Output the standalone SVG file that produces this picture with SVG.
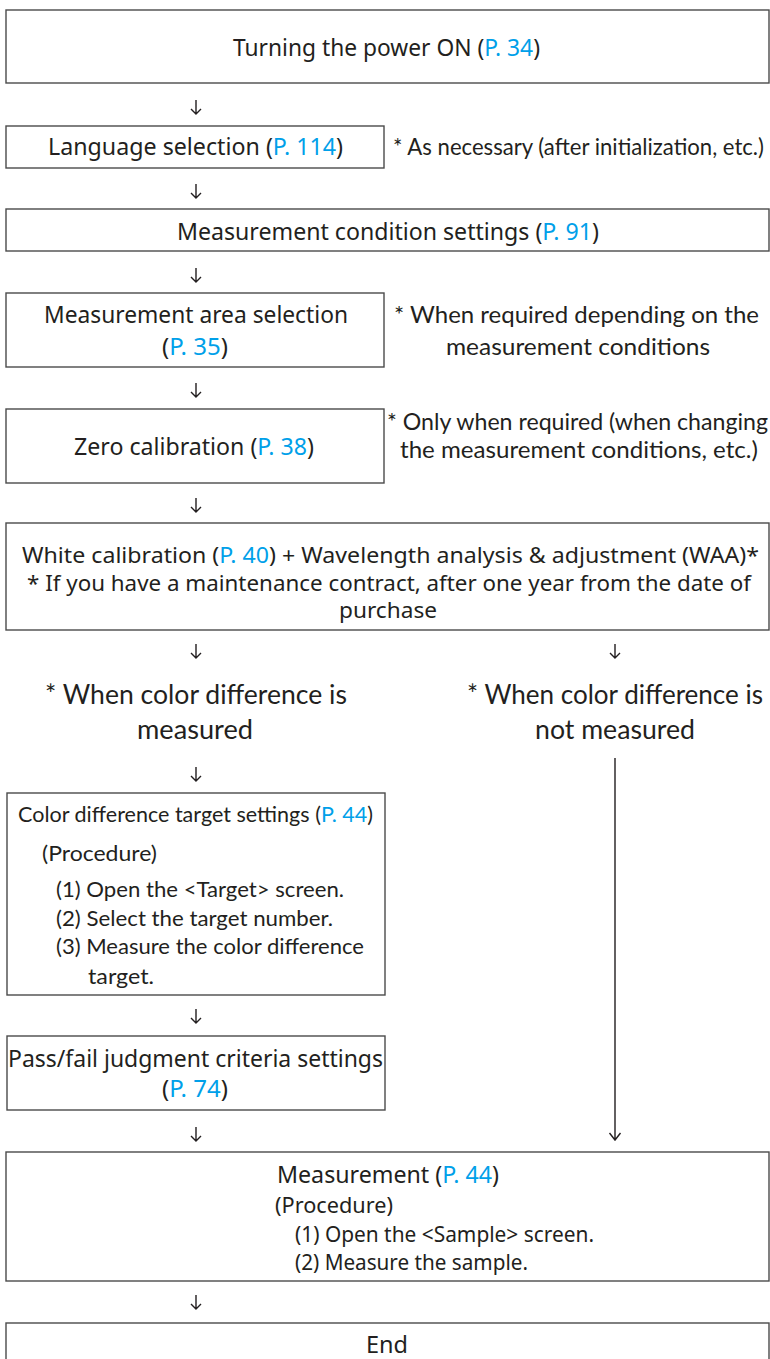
<svg xmlns="http://www.w3.org/2000/svg" width="770" height="1359" viewBox="0 0 770 1359">
<style>
.box{fill:#fff;stroke:#4a4a4a;stroke-width:1.4}
text{lengthAdjust:spacingAndGlyphs}
.t{font-family:"Noto Sans","Liberation Sans",sans-serif;font-size:23px;fill:#231f20}
.w{font-family:"Noto Sans","Liberation Sans",sans-serif;font-size:22.5px;fill:#231f20}
.s{font-family:"Noto Sans","Liberation Sans",sans-serif;font-size:21px;fill:#231f20}
.n{font-family:Lato,"Noto Sans",sans-serif;font-size:23.5px;fill:#231f20}
.l{font-family:Lato,"Noto Sans",sans-serif;font-size:26px;fill:#231f20}
.lb{font-family:Lato,"Noto Sans",sans-serif;font-size:21.5px;fill:#231f20}
.lk{fill:#00a0e9}
.arr{stroke:#231f20;stroke-width:1.4;fill:none}
</style>
<rect width="770" height="1359" fill="#fff"/>
<g id="n-power">
<rect class="box" x="6" y="10" width="763" height="73"/>
<text class="t" x="233" y="56" textLength="307" lengthAdjust="spacingAndGlyphs">Turning the power ON (<tspan class="lk">P. 34</tspan>)</text>
</g>
<g id="n-language">
<rect class="box" x="6" y="126" width="378" height="42"/>
<text class="t" x="48" y="155" textLength="295" lengthAdjust="spacingAndGlyphs">Language selection (<tspan class="lk">P. 114</tspan>)</text>
</g>
<g id="note-language">
<text class="n" x="393" y="155" textLength="371" lengthAdjust="spacingAndGlyphs">* As necessary (after initialization, etc.)</text>
</g>
<g id="n-condition">
<rect class="box" x="6" y="209" width="763" height="42"/>
<text class="t" x="177" y="240" textLength="422" lengthAdjust="spacingAndGlyphs">Measurement condition settings (<tspan class="lk">P. 91</tspan>)</text>
</g>
<g id="n-area">
<rect class="box" x="6" y="293" width="378" height="74"/>
<text class="t" x="44" y="323" textLength="304" lengthAdjust="spacingAndGlyphs">Measurement area selection</text>
<text class="t" x="162" y="355" textLength="66" lengthAdjust="spacingAndGlyphs">(<tspan class="lk">P. 35</tspan>)</text>
</g>
<g id="note-area">
<text class="n" x="394" y="323" textLength="365" lengthAdjust="spacingAndGlyphs">* When required depending on the</text>
<text class="n" x="446" y="355" textLength="264" lengthAdjust="spacingAndGlyphs">measurement conditions</text>
</g>
<g id="n-zero">
<rect class="box" x="6" y="409" width="378" height="74"/>
<text class="t" x="74" y="455" textLength="240" lengthAdjust="spacingAndGlyphs">Zero calibration (<tspan class="lk">P. 38</tspan>)</text>
</g>
<g id="note-zero">
<text class="n" x="387" y="430" textLength="381" lengthAdjust="spacingAndGlyphs">* Only when required (when changing</text>
<text class="n" x="400" y="458" textLength="358" lengthAdjust="spacingAndGlyphs">the measurement conditions, etc.)</text>
</g>
<g id="n-white">
<rect class="box" x="6" y="523" width="763" height="107"/>
<text class="w" x="22" y="563" textLength="737" lengthAdjust="spacingAndGlyphs">White calibration (<tspan class="lk">P. 40</tspan>) + Wavelength analysis &amp; adjustment (WAA)*</text>
<text class="w" x="27" y="591" textLength="724" lengthAdjust="spacingAndGlyphs">* If you have a maintenance contract, after one year from the date of</text>
<text class="w" x="339" y="618" textLength="98" lengthAdjust="spacingAndGlyphs">purchase</text>
</g>
<g id="label-measured">
<text class="l" x="45" y="704" textLength="302" lengthAdjust="spacingAndGlyphs">* When color difference is</text>
<text class="l" x="137" y="739" textLength="116" lengthAdjust="spacingAndGlyphs">measured</text>
</g>
<g id="label-not-measured">
<text class="l" x="467" y="704" textLength="296" lengthAdjust="spacingAndGlyphs">* When color difference is</text>
<text class="l" x="535" y="739" textLength="160" lengthAdjust="spacingAndGlyphs">not measured</text>
</g>
<g id="n-target">
<rect class="box" x="7" y="793" width="378" height="202"/>
<text class="lb" x="18" y="822" textLength="355" lengthAdjust="spacingAndGlyphs">Color difference target settings (<tspan class="lk">P. 44</tspan>)</text>
<text class="lb" x="42" y="861" textLength="115" lengthAdjust="spacingAndGlyphs">(Procedure)</text>
<text class="lb" x="56" y="897" textLength="288" lengthAdjust="spacingAndGlyphs">(1) Open the &lt;Target&gt; screen.</text>
<text class="lb" x="56" y="926" textLength="277" lengthAdjust="spacingAndGlyphs">(2) Select the target number.</text>
<text class="lb" x="56" y="954" textLength="308" lengthAdjust="spacingAndGlyphs">(3) Measure the color difference</text>
<text class="lb" x="88" y="984" textLength="66" lengthAdjust="spacingAndGlyphs">target.</text>
</g>
<g id="n-passfail">
<rect class="box" x="7" y="1036" width="378" height="74"/>
<text class="t" x="8" y="1067" textLength="375" lengthAdjust="spacingAndGlyphs">Pass/fail judgment criteria settings</text>
<text class="t" x="162" y="1097" textLength="66" lengthAdjust="spacingAndGlyphs">(<tspan class="lk">P. 74</tspan>)</text>
</g>
<g id="n-measurement">
<rect class="box" x="6" y="1152" width="763" height="129"/>
<text class="t" x="277" y="1183" textLength="222" lengthAdjust="spacingAndGlyphs">Measurement (<tspan class="lk">P. 44</tspan>)</text>
<text class="s" x="275" y="1213" textLength="118" lengthAdjust="spacingAndGlyphs">(Procedure)</text>
<text class="s" x="295" y="1242" textLength="299" lengthAdjust="spacingAndGlyphs">(1) Open the &lt;Sample&gt; screen.</text>
<text class="s" x="295" y="1270" textLength="233" lengthAdjust="spacingAndGlyphs">(2) Measure the sample.</text>
</g>
<g id="n-end">
<rect class="box" x="6" y="1323" width="763" height="60"/>
<text class="t" x="366" y="1353" textLength="42" lengthAdjust="spacingAndGlyphs">End</text>
</g>
<g id="connectors">
<path class="arr" d="M196,100V114M191,109L196,114L201,109"/>
<path class="arr" d="M196,184V198M191,193L196,198L201,193"/>
<path class="arr" d="M196,268V282M191,277L196,282L201,277"/>
<path class="arr" d="M196,383V397M191,392L196,397L201,392"/>
<path class="arr" d="M196,498V512M191,507L196,512L201,507"/>
<path class="arr" d="M196,644V658M191,653L196,658L201,653"/>
<path class="arr" d="M615,644V658M610,653L615,658L620,653"/>
<path class="arr" d="M196,767V781M191,776L196,781L201,776"/>
<path class="arr" d="M196,1009V1023M191,1018L196,1023L201,1018"/>
<path class="arr" d="M196,1127V1141M191,1136L196,1141L201,1136"/>
<path class="arr" d="M615,758V1140M609.5,1133L615,1140L620.5,1133"/>
<path class="arr" d="M196,1295V1309M191,1304L196,1309L201,1304"/>
</g>
</svg>
